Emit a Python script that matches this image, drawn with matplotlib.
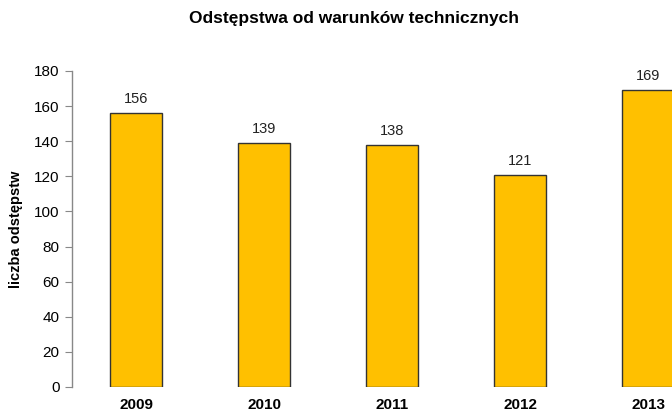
import matplotlib.pyplot as plt

plt.rcParams['font.family'] = ['Liberation Sans', 'DejaVu Sans']

years = ["2009", "2010", "2011", "2012", "2013"]
counts = [156, 139, 138, 121, 169]

fig = plt.figure(figsize=(6.72, 4.12), dpi=100)
ax = fig.add_axes([72 / 672, 25 / 412, 600 / 672, 316 / 412])

x = range(len(years))
bars = ax.bar(x, counts, width=0.406, color="#FFC000", edgecolor="#333333", linewidth=1.0)

for xi, v in zip(x, counts):
    ax.text(xi, v + 4, str(v), ha="center", va="bottom", fontsize=10.5, color="#222222")

ax.set_xlim(-0.5, 4.1875)
ax.set_ylim(0, 180)
ax.set_yticks(range(0, 181, 20))
ax.set_xticks(list(x))
ax.set_xticklabels(years, fontweight="bold", fontsize=11)
ax.tick_params(axis="x", length=0, pad=8)
ax.tick_params(axis="y", length=5, color="#888888", labelsize=11, pad=4)

for s in ["top", "right", "bottom"]:
    ax.spines[s].set_visible(False)
ax.spines["left"].set_color("#888888")
ax.spines["left"].set_linewidth(1.0)

ax.set_ylabel("liczba odstępstw", fontweight="bold", fontsize=10.5, labelpad=8)
fig.text(0.527, 1 - 18 / 412, "Odstępstwa od warunków technicznych",
         ha="center", va="center", fontweight="bold", fontsize=12.5)

fig.savefig("out.png", dpi=100)
